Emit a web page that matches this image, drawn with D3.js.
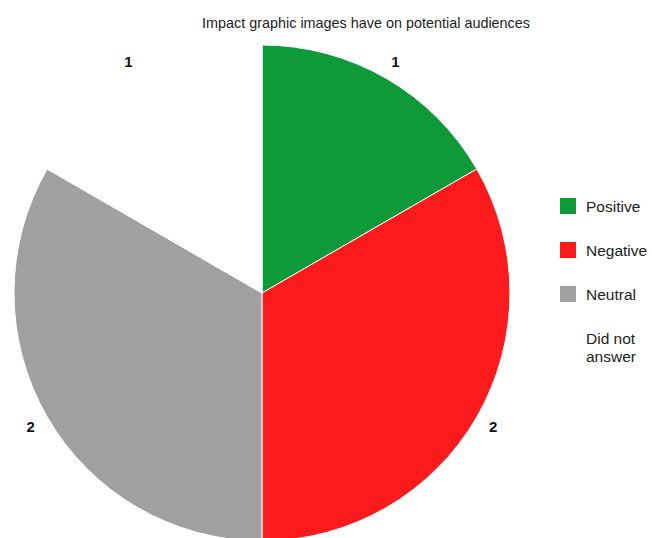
<!DOCTYPE html>
<html>
<head>
<meta charset="utf-8">
<script src="https://cdn.jsdelivr.net/npm/d3@7"></script>
<style>
  html, body { margin: 0; padding: 0; background: #fff; }
  svg { display: block; font-family: "Liberation Sans", Arial, sans-serif; }
</style>
</head>
<body>
<svg id="chart" width="652" height="538"></svg>
<script>
// Survey responses
const categories = ["Positive", "Negative", "Neutral", "Did not answer"];
const counts = [1, 2, 2, 1];
const colors = ["#0f9a3a", "#fb1a1c", "#a0a0a0", "#ffffff"];
const legendLines = [["Positive"], ["Negative"], ["Neutral"], ["Did not", "answer"]];

const svg = d3.select("#chart");
const cx = 262, cy = 293, radius = 248, labelRadius = 267;

svg.append("text")
  .attr("x", 366).attr("y", 28)
  .attr("text-anchor", "middle")
  .attr("font-size", 14.4)
  .attr("fill", "#222")
  .text("Impact graphic images have on potential audiences");

const data = categories.map((c, i) => ({ name: c, value: counts[i], color: colors[i] }));
const pie = d3.pie().value(d => d.value).sort(null);
const arcs = pie(data);
const arc = d3.arc().innerRadius(0).outerRadius(radius);
const labelArc = d3.arc().innerRadius(labelRadius).outerRadius(labelRadius);

const g = svg.append("g").attr("transform", `translate(${cx},${cy})`);
g.selectAll("path.slice")
  .data(arcs)
  .join("path")
  .attr("class", "slice")
  .attr("d", arc)
  .attr("fill", d => d.data.color)
  .attr("stroke", "#fff")
  .attr("stroke-width", 1);

g.selectAll("text.val")
  .data(arcs)
  .join("text")
  .attr("class", "val")
  .attr("transform", d => `translate(${labelArc.centroid(d)})`)
  .attr("text-anchor", "middle")
  .attr("dominant-baseline", "central")
  .attr("font-size", 15)
  .attr("font-weight", "bold")
  .attr("fill", "#111")
  .text(d => d.data.value);

// Legend
const legend = svg.append("g").attr("transform", "translate(560,206)");
const item = legend.selectAll("g.item")
  .data(data)
  .join("g")
  .attr("class", "item")
  .attr("transform", (d, i) => `translate(0,${i * 44})`);

item.append("rect")
  .attr("x", 0).attr("y", -8)
  .attr("width", 16).attr("height", 16)
  .attr("fill", d => d.color);

item.append("text")
  .attr("x", 26)
  .attr("y", (d, i) => legendLines[i].length > 1 ? 6 : 6)
  .attr("font-size", 15.5)
  .attr("fill", "#222")
  .selectAll("tspan")
  .data((d, i) => legendLines[i])
  .join("tspan")
  .attr("x", 26)
  .attr("dy", (t, j) => j === 0 ? 0 : 18)
  .text(t => t);
</script>
</body>
</html>
